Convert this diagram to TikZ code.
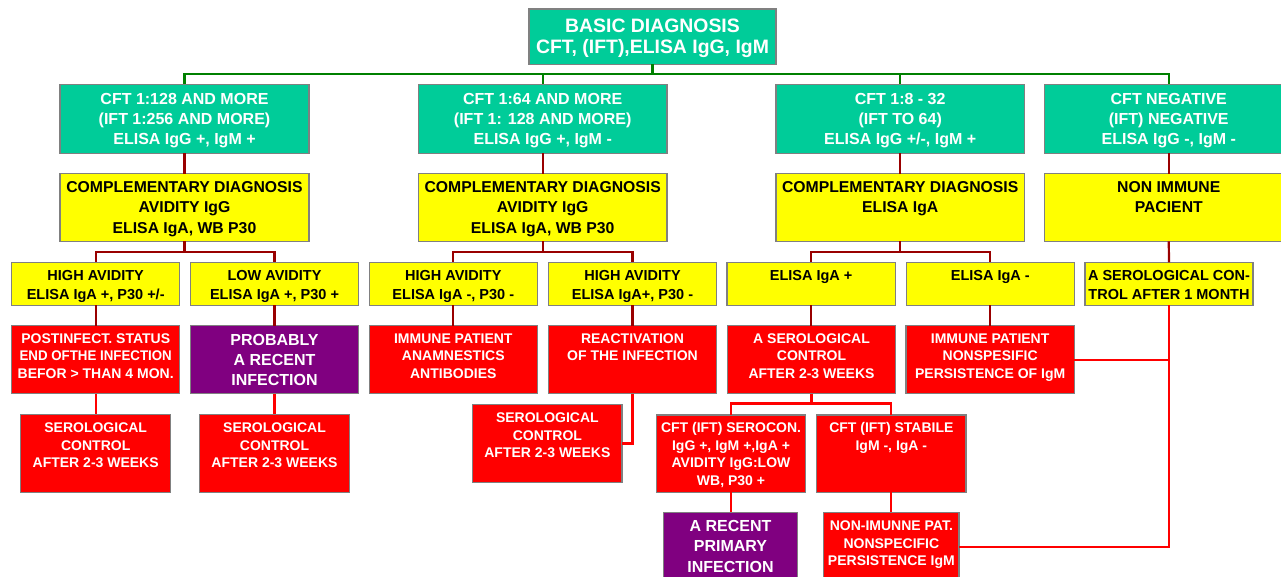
\documentclass[tikz,border=0pt]{standalone}
\usepackage{fontspec}
\setmainfont{Liberation Sans}
\usepackage{graphicx}
\definecolor{gfill}{HTML}{00CC99}
\definecolor{bord}{HTML}{808080}
\definecolor{glinec}{HTML}{008000}
\definecolor{mlinec}{HTML}{990000}
\definecolor{rlinec}{HTML}{FF0000}
\definecolor{pfill}{HTML}{800080}
\definecolor{yfill}{HTML}{FFFF00}
\tikzset{
 boxbase/.style={draw=bord, line width=1.2pt, inner sep=0pt, outer sep=0pt, font=\bfseries},
 greenb/.style={boxbase, fill=gfill, text=white},
 yellowb/.style={boxbase, fill=yfill, text=black},
 redb/.style={boxbase, fill=rlinec, text=white},
 purpleb/.style={boxbase, fill=pfill, text=white},
 gconn/.style={draw=glinec, line width=2.2pt},
 mconn/.style={draw=mlinec, line width=2.2pt},
 rconn/.style={draw=rlinec, line width=2.2pt},
}
\newcommand\fz[2]{\fontsize{#1}{#2}\selectfont}
\newcommand\bx[8]{%
 \pgfmathsetmacro\bxw{#5-#3}%
 \pgfmathsetmacro\bxh{#6-#4}%
 \node[#2, minimum width=\bxw pt, minimum height=\bxh pt] (#1) at ({(#3+#5)/2},{(#4+#6)/2})
 {\parbox[c][\bxh pt][t]{\bxw pt}{\centering\rule{0pt}{#7pt}#8\par}};}
\begin{document}
\begin{tikzpicture}[x=1pt,y=-1pt]
\useasboundingbox (0,0) rectangle (1281,576);
\fill[white] (0,0) rectangle (1281,576);
\clip (0,0) rectangle (1281,576);
% connectors (drawn first, boxes on top)
\coordinate (dummy) at (0,0);
% top
\bx{top}{greenb}{529}{9}{776}{64.3}{23.3}{\fz{19.4}{21}BASIC DIAGNOSIS\\CFT, (IFT),ELISA IgG, IgM}
% level 1
\bx{g1}{greenb}{60}{84.3}{309}{153.3}{19.7}{\fz{16}{20}CFT 1:128 AND MORE\\(IFT 1:256 AND MORE)\\ELISA IgG +, IgM +}
\bx{g2}{greenb}{418.4}{84.3}{667}{153.3}{19.7}{\fz{16}{20}CFT 1:64 AND MORE\\(IFT 1: 128 AND MORE)\\ELISA IgG +, IgM -}
\bx{g3}{greenb}{775.9}{84.3}{1024.5}{153.3}{19.7}{\fz{16}{20}CFT 1:8 - 32\\(IFT TO 64)\\ELISA IgG +/-, IgM +}
\bx{g4}{greenb}{1044.5}{84.3}{1293}{153.3}{19.7}{\fz{16}{20}CFT NEGATIVE\\(IFT) NEGATIVE\\ELISA IgG -, IgM -}
% level 2
\bx{y1}{yellowb}{60}{173.7}{309}{241.3}{18.6}{\fz{15.75}{20.5}COMPLEMENTARY DIAGNOSIS\\AVIDITY IgG\\ELISA IgA, WB P30}
\bx{y2}{yellowb}{418.4}{173.7}{667}{241.3}{18.6}{\fz{15.75}{20.5}COMPLEMENTARY DIAGNOSIS\\AVIDITY IgG\\ELISA IgA, WB P30}
\bx{y3}{yellowb}{775.9}{173.7}{1024.5}{241.3}{18.6}{\fz{15.75}{20.5}COMPLEMENTARY DIAGNOSIS\\ELISA IgA}
\bx{y4}{yellowb}{1044.5}{173.7}{1293}{241.3}{18.6}{\fz{15.75}{20.5}NON IMMUNE\\PACIENT}
% level 3
\bx{a}{yellowb}{11.7}{262.3}{179.7}{305.3}{18.4}{\fz{14.5}{18.3}HIGH AVIDITY\\ELISA IgA +, P30 +/-}
\bx{b}{yellowb}{190.7}{262.3}{358.3}{305.3}{18.4}{\fz{14.5}{18.3}LOW AVIDITY\\ELISA IgA +, P30 +}
\bx{c}{yellowb}{369.3}{262.3}{537.3}{305.3}{18.4}{\fz{14.5}{18.3}HIGH AVIDITY\\ELISA IgA -, P30 -}
\bx{d}{yellowb}{548.7}{262.3}{716.3}{305.3}{18.4}{\fz{14.5}{18.3}HIGH AVIDITY\\ELISA IgA+, P30 -}
\bx{e}{yellowb}{727}{262.3}{895.3}{305.3}{18.4}{\fz{14.5}{18.3}ELISA IgA +}
\bx{f}{yellowb}{906.4}{262.3}{1074.2}{305.3}{18.4}{\fz{14.5}{18.3}ELISA IgA -}
\bx{gg}{yellowb}{1085}{262.3}{1253}{305.3}{18.4}{\fz{14.5}{18.3}A SEROLOGICAL CON-\\TROL AFTER 1 MONTH}
% level 4
\bx{post}{redb}{11.7}{325.7}{179.7}{393.7}{17.6}{\fz{14}{17.5}POSTINFECT. STATUS\\\scalebox{0.95}[1]{END OFTHE INFECTION}\\BEFOR > THAN 4 MON.}
\bx{prob}{purpleb}{190.7}{325.7}{358.3}{393.7}{20}{\fz{16}{20}PROBABLY\\A RECENT\\INFECTION}
\bx{imm}{redb}{369.3}{325.7}{537.3}{393.7}{17.6}{\fz{14}{17.5}IMMUNE PATIENT\\ANAMNESTICS\\ANTIBODIES}
\bx{react}{redb}{548.7}{325.7}{716.3}{393.7}{17.6}{\fz{14}{17.5}REACTIVATION\\OF THE INFECTION}
\bx{aser}{redb}{727.3}{325.7}{895.7}{393.7}{17.6}{\fz{14}{17.5}A SEROLOGICAL\\CONTROL\\AFTER 2-3 WEEKS}
\bx{immns}{redb}{906}{325.7}{1074.3}{393.7}{17.6}{\fz{14}{17.5}IMMUNE PATIENT\\NONSPESIFIC\\PERSISTENCE OF IgM}
% level 5
\bx{s1}{redb}{20.7}{414.3}{170.7}{492.3}{18.4}{\fz{14}{17.5}SEROLOGICAL\\CONTROL\\AFTER 2-3 WEEKS}
\bx{s2}{redb}{199.7}{414.3}{349.3}{492.3}{18.4}{\fz{14}{17.5}SEROLOGICAL\\CONTROL\\AFTER 2-3 WEEKS}
\bx{s3}{redb}{472.7}{404.7}{622}{482.3}{18}{\fz{14}{17.5}SEROLOGICAL\\CONTROL\\AFTER 2-3 WEEKS}
\bx{serocon}{redb}{656.3}{415}{805.7}{492.3}{17.7}{\fz{14}{17.5}CFT (IFT) SEROCON.\\IgG +, IgM +,IgA +\\AVIDITY IgG:LOW\\WB, P30 +}
\bx{stab}{redb}{816.7}{415}{966}{492.3}{17.7}{\fz{14}{17.5}CFT (IFT) STABILE\\IgM -, IgA -}
% level 6
\bx{recent}{purpleb}{663.3}{512.3}{797.7}{581}{18.7}{\fz{16}{20.7}A RECENT\\PRIMARY\\INFECTION}
\bx{nonimm}{redb}{823.7}{512.3}{959}{581}{18.4}{\fz{14}{17.3}NON-IMUNNE PAT.\\NONSPECIFIC\\PERSISTENCE IgM}
% connectors
\foreach \n in {g1,g2,g3,g4} \draw[gconn] (top.south) -- ++(0,9.7) -| (\n.north);
\foreach \u/\l in {g1/y1,g2/y2,g3/y3,g4/y4} \draw[mconn] (\u.south) -- (\l.north);
\foreach \u/\l in {y1/a,y1/b,y2/c,y2/d,y3/e,y3/f} \draw[mconn] (\u.south) -- ++(0,10.4) -| (\l.north);
\draw[mconn] (y4.south) -- (gg.north);
\foreach \u/\l in {a/post,b/prob,c/imm,d/react,e/aser,f/immns} \draw[mconn] (\u.south) -- (\u.south |- \l.north);
\draw[rconn] (post.south) -- (post.south |- s1.north);
\draw[rconn] (prob.south) -- (prob.south |- s2.north);
\draw[rconn] (react.south) |- (s3.east);
\draw[rconn] (aser.south) -- ++(0,9.7) -| (serocon.north);
\draw[rconn] (aser.south) -- ++(0,9.7) -| (stab.north);
\draw[rconn] (serocon.south) -- (serocon.south |- recent.north);
\draw[rconn] (stab.south) -- (stab.south |- nonimm.north);
\coordinate (jn) at (gg.south |- immns.east);
\draw[rconn] (gg.south) |- (nonimm.east);
\draw[rconn] (immns.east) -- (jn);
\end{tikzpicture}
\end{document}
